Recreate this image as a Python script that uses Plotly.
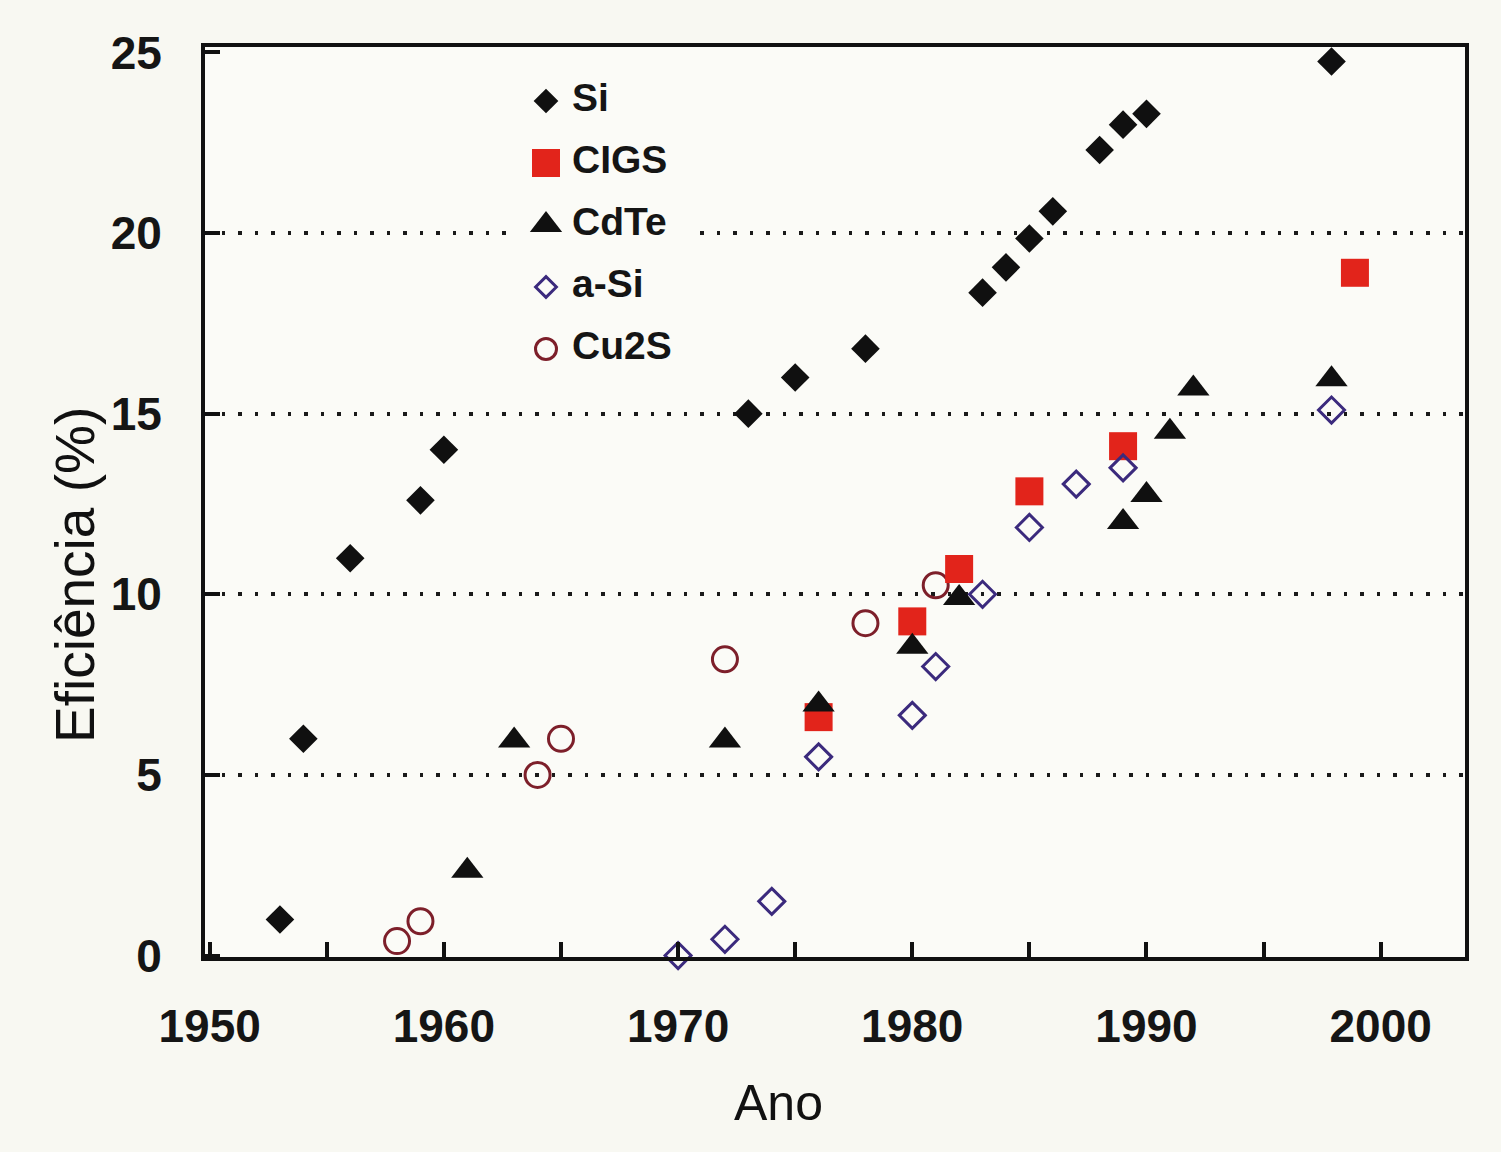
import plotly.graph_objects as go

# ---- data ----
si_year = [1953, 1954, 1956, 1959, 1960, 1973, 1975, 1978, 1983, 1984, 1985, 1986, 1988, 1989, 1990, 1997.9]
si_eff = [1.0, 6.0, 11.0, 12.6, 14.0, 15.0, 16.0, 16.8, 18.35, 19.05, 19.85, 20.6, 22.3, 23.0, 23.3, 24.75]

cigs_year = [1976, 1980, 1982, 1985, 1989, 1998.9]
cigs_eff = [6.6, 9.25, 10.7, 12.85, 14.1, 18.9]

cdte_year = [1961, 1963, 1972, 1976, 1980, 1982, 1989, 1990, 1991, 1992, 1997.9]
cdte_eff = [2.35, 5.95, 5.95, 6.95, 8.55, 9.9, 12.0, 12.75, 14.5, 15.7, 15.95]

asi_year = [1970, 1972, 1974, 1976, 1980, 1981, 1983, 1985, 1987, 1989, 1997.9]
asi_eff = [0.0, 0.45, 1.5, 5.5, 6.65, 8.0, 10.0, 11.85, 13.05, 13.5, 15.1]

cu2s_year = [1958, 1959, 1964, 1965, 1972, 1978, 1981]
cu2s_eff = [0.4, 0.95, 5.0, 6.0, 8.2, 9.2, 10.25]

series_names = ["Si", "CIGS", "CdTe", "a-Si", "Cu2S"]
x_ticks = [1950, 1960, 1970, 1980, 1990, 2000]
y_ticks = [0, 5, 10, 15, 20, 25]
y_grid = [5, 10, 15, 20]

# ---- styles ----
BG = "#f8f8f2"
PLOT_BG = "#fbfbf7"
FONT = "Liberation Sans, Arial, sans-serif"
styles = {
    "Si": dict(symbol="diamond", size=22, color="#101010", line=dict(width=0)),
    "CIGS": dict(symbol="square", size=28, color="#e2241b", line=dict(width=0)),
    "CdTe": dict(symbol="triangle-up", size=28, color="#101010", line=dict(width=0)),
    "a-Si": dict(symbol="diamond-open", size=20, color="#3b2a7d", line=dict(width=3, color="#3b2a7d")),
    "Cu2S": dict(symbol="circle-open", size=25, color="#7d1f2a", line=dict(width=3, color="#7d1f2a")),
}
legend_styles = {
    "Si": dict(symbol="diamond", size=19, color="#101010", line=dict(width=0)),
    "CIGS": dict(symbol="square", size=28, color="#e2241b", line=dict(width=0)),
    "CdTe": dict(symbol="triangle-up", size=28, color="#101010", line=dict(width=0)),
    "a-Si": dict(symbol="diamond-open", size=16, color="#3b2a7d", line=dict(width=3, color="#3b2a7d")),
    "Cu2S": dict(symbol="circle-open", size=21, color="#7d1f2a", line=dict(width=3, color="#7d1f2a")),
}

data = {
    "Si": (si_year, si_eff),
    "CIGS": (cigs_year, cigs_eff),
    "CdTe": (cdte_year, cdte_eff),
    "a-Si": (asi_year, asi_eff),
    "Cu2S": (cu2s_year, cu2s_eff),
}

fig = go.Figure()

# drawing order: Cu2S, CIGS, CdTe, a-Si, Si
for name in ["Cu2S", "CIGS", "CdTe", "a-Si", "Si"]:
    xs, ys = data[name]
    fig.add_trace(go.Scatter(
        x=xs, y=ys, mode="markers", name=name, showlegend=False,
        marker=styles[name], cliponaxis=False, xaxis="x", yaxis="y",
    ))

# legend drawn on a helper axis pair (one row per series); its background
# masks the dotted gridline behind the legend block as in the original
for i, name in enumerate(series_names):
    fig.add_trace(go.Scatter(
        x=[0], y=[i], mode="markers", showlegend=False,
        marker=legend_styles[name], xaxis="x2", yaxis="y2", cliponaxis=False,
    ))
fig.add_trace(go.Scatter(
    x=[1.3] * len(series_names), y=list(range(len(series_names))), mode="text",
    text=series_names, textposition="middle right", showlegend=False,
    textfont=dict(family=FONT, size=39, color="#151515", weight="bold"),
    xaxis="x2", yaxis="y2", cliponaxis=False,
))

L, R, T, B = 205, 36, 47, 195
W, H = 1501, 1152
pw, ph = W - L - R, H - T - B

def px_x(p):
    return (p - L) / pw

def px_y(p):
    return 1 - (p - T) / ph

fig.update_layout(
    width=W, height=H,
    margin=dict(l=L, r=R, t=T, b=B),
    paper_bgcolor=BG, plot_bgcolor=PLOT_BG,
    font=dict(family=FONT, color="#151515"),
    showlegend=False,
    xaxis=dict(
        range=[1949.8, 2003.6], tickvals=x_ticks, ticktext=[str(v) for v in x_ticks],
        ticks="inside", ticklen=15, tickwidth=4, tickcolor="#111",
        minor=dict(ticks="inside", dtick=5, tick0=1950, ticklen=15, tickwidth=4, tickcolor="#111"),
        showline=True, linewidth=4, linecolor="#111", mirror=True,
        showgrid=False, zeroline=False,
        tickfont=dict(family=FONT, size=46, color="#151515", weight="bold"),
        ticklabelstandoff=26,
    ),
    yaxis=dict(
        range=[-0.04, 25.15], tickvals=y_ticks, ticktext=[str(v) for v in y_ticks],
        ticks="inside", ticklen=15, tickwidth=4, tickcolor="#111",
        showline=True, linewidth=4, linecolor="#111", mirror=True,
        showgrid=False, zeroline=False,
        minor=dict(tickvals=y_grid, ticks="", showgrid=True, gridcolor="#1a1a1a",
                   gridwidth=3.5, griddash="3.5px,13px"),
        tickfont=dict(family=FONT, size=46, color="#151515", weight="bold"),
        ticklabelstandoff=30,
    ),
    xaxis2=dict(domain=[px_x(515), px_x(695)], range=[-1.55, 7.45], visible=False,
                anchor="y2", fixedrange=True),
    yaxis2=dict(domain=[px_y(380), px_y(70)], range=[4.5, -0.5], visible=False,
                anchor="x2", fixedrange=True),
    annotations=[
        dict(text="Ano", xref="paper", yref="paper", x=px_x(778), y=px_y(1103),
             xanchor="center", yanchor="middle", showarrow=False,
             font=dict(family=FONT, size=50, color="#111")),
        dict(text="Eficiência (%)", xref="paper", yref="paper", x=px_x(75), y=px_y(575),
             xanchor="center", yanchor="middle", showarrow=False, textangle=-90,
             font=dict(family=FONT, size=55, color="#111")),
    ],
)

fig.write_html("out.html")
